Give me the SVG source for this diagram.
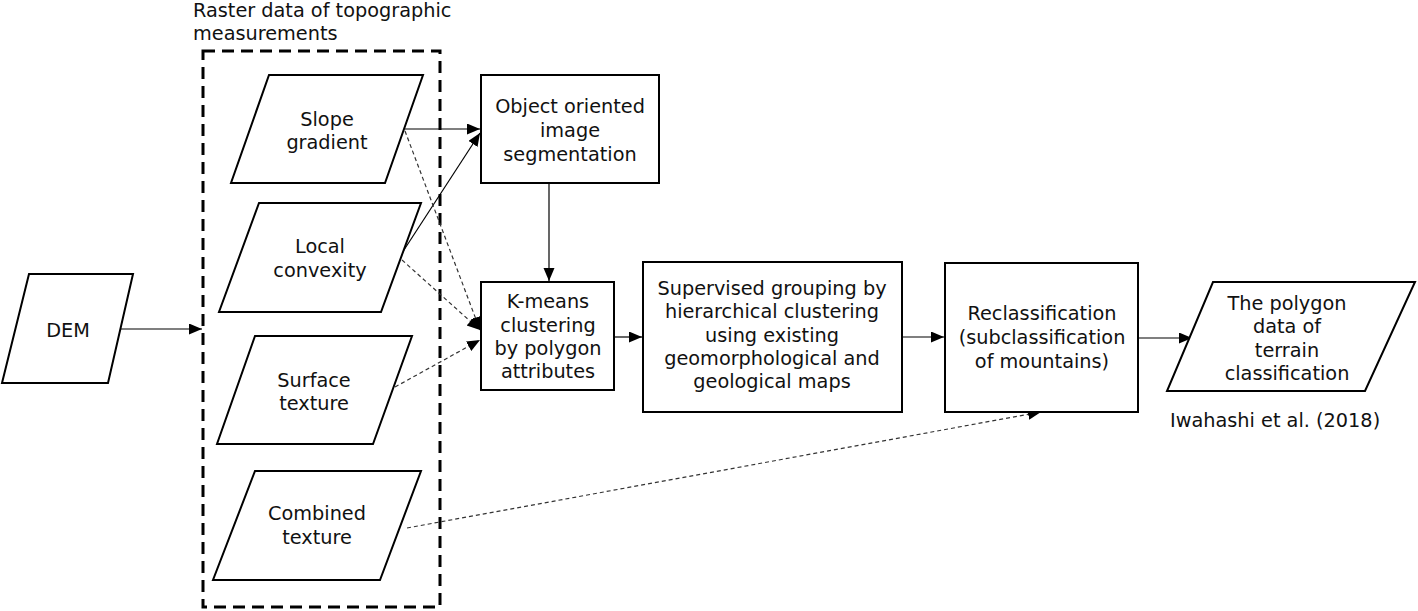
<svg xmlns="http://www.w3.org/2000/svg" width="1418" height="611" viewBox="0 0 1418 611">
<defs>
<marker id="ah" markerUnits="userSpaceOnUse" markerWidth="14" markerHeight="12" refX="13" refY="5.5" orient="auto">
<path d="M0,0 L13,5.5 L0,11 Z" fill="#000"/>
</marker>
<style>
text{font-family:"DejaVu Sans","Verdana",sans-serif;font-size:19.3px;fill:#111;text-anchor:middle}
.shape{fill:#fff;stroke:#000;stroke-width:2}
.solid{fill:none;stroke:#000;stroke-width:1.2}
.dash{fill:none;stroke:#333;stroke-width:1.2;stroke-dasharray:4 3}
.group{fill:none;stroke:#000;stroke-width:3;stroke-dasharray:12 7}
</style>
</defs>
<rect width="1418" height="611" fill="#fff"/>
<g id="raster-group">
<rect class="group" x="203" y="51" width="237" height="556"/>
<text x="193" y="17" style="text-anchor:start">Raster data of topographic</text>
<text x="193" y="40" style="text-anchor:start">measurements</text>
</g>
<g id="connectors">
<line class="solid" x1="120" y1="329" x2="202" y2="329" marker-end="url(#ah)"/>
<line class="solid" x1="405" y1="129" x2="480" y2="129" marker-end="url(#ah)"/>
<line class="solid" x1="402" y1="253" x2="480" y2="133" marker-end="url(#ah)"/>
<line class="dash" x1="405" y1="131" x2="480" y2="330" marker-end="url(#ah)"/>
<line class="dash" x1="402" y1="260" x2="480" y2="330" marker-end="url(#ah)"/>
<line class="dash" x1="395" y1="387" x2="480" y2="340" marker-end="url(#ah)"/>
<line class="solid" x1="549" y1="183" x2="549" y2="281" marker-end="url(#ah)"/>
<line class="solid" x1="614" y1="337" x2="642" y2="337" marker-end="url(#ah)"/>
<line class="solid" x1="902" y1="337" x2="944" y2="337" marker-end="url(#ah)"/>
<line class="solid" x1="1138" y1="338" x2="1192" y2="338" marker-end="url(#ah)"/>
<line class="dash" x1="407" y1="528" x2="1041" y2="412" marker-end="url(#ah)"/>
</g>
<g id="dem">
<polygon class="shape" points="29,274 133,274 108,383 2,383"/>
<text x="68" y="337">DEM</text>
</g>
<g id="slope">
<polygon class="shape" points="269,75 423,75 385,183 231,183"/>
<text x="327" y="126">Slope</text>
<text x="327" y="149">gradient</text>
</g>
<g id="local">
<polygon class="shape" points="259,203 421,203 381,312 219,312"/>
<text x="320" y="253">Local</text>
<text x="320" y="277">convexity</text>
</g>
<g id="surface">
<polygon class="shape" points="255,336 412,336 373,444 217,444"/>
<text x="314" y="387">Surface</text>
<text x="314" y="410">texture</text>
</g>
<g id="combined">
<polygon class="shape" points="255,471 421,471 380,580 213,580"/>
<text x="317" y="520">Combined</text>
<text x="317" y="544">texture</text>
</g>
<g id="segmentation">
<rect class="shape" x="481" y="75" width="178" height="108"/>
<text x="570" y="113">Object oriented</text>
<text x="570" y="137">image</text>
<text x="570" y="161">segmentation</text>
</g>
<g id="kmeans">
<rect class="shape" x="481" y="282" width="133" height="108"/>
<text x="548" y="308">K-means</text>
<text x="548" y="332">clustering</text>
<text x="548" y="355">by polygon</text>
<text x="548" y="378">attributes</text>
</g>
<g id="supervised">
<rect class="shape" x="643" y="262" width="259" height="150"/>
<text x="772" y="295">Supervised grouping by</text>
<text x="772" y="318">hierarchical clustering</text>
<text x="772" y="342">using existing</text>
<text x="772" y="365">geomorphological and</text>
<text x="772" y="388">geological maps</text>
</g>
<g id="reclassification">
<rect class="shape" x="945" y="263" width="193" height="149"/>
<text x="1042" y="320">Reclassification</text>
<text x="1042" y="344">(subclassification</text>
<text x="1042" y="368">of mountains)</text>
</g>
<g id="output">
<polygon class="shape" points="1213,282 1415,282 1365,391 1167,391"/>
<text x="1287" y="310">The polygon</text>
<text x="1287" y="333">data of</text>
<text x="1287" y="357">terrain</text>
<text x="1287" y="380">classification</text>
</g>
<g id="citation">
<text x="1170" y="427" style="text-anchor:start">Iwahashi et al. (2018)</text>
</g>
</svg>
